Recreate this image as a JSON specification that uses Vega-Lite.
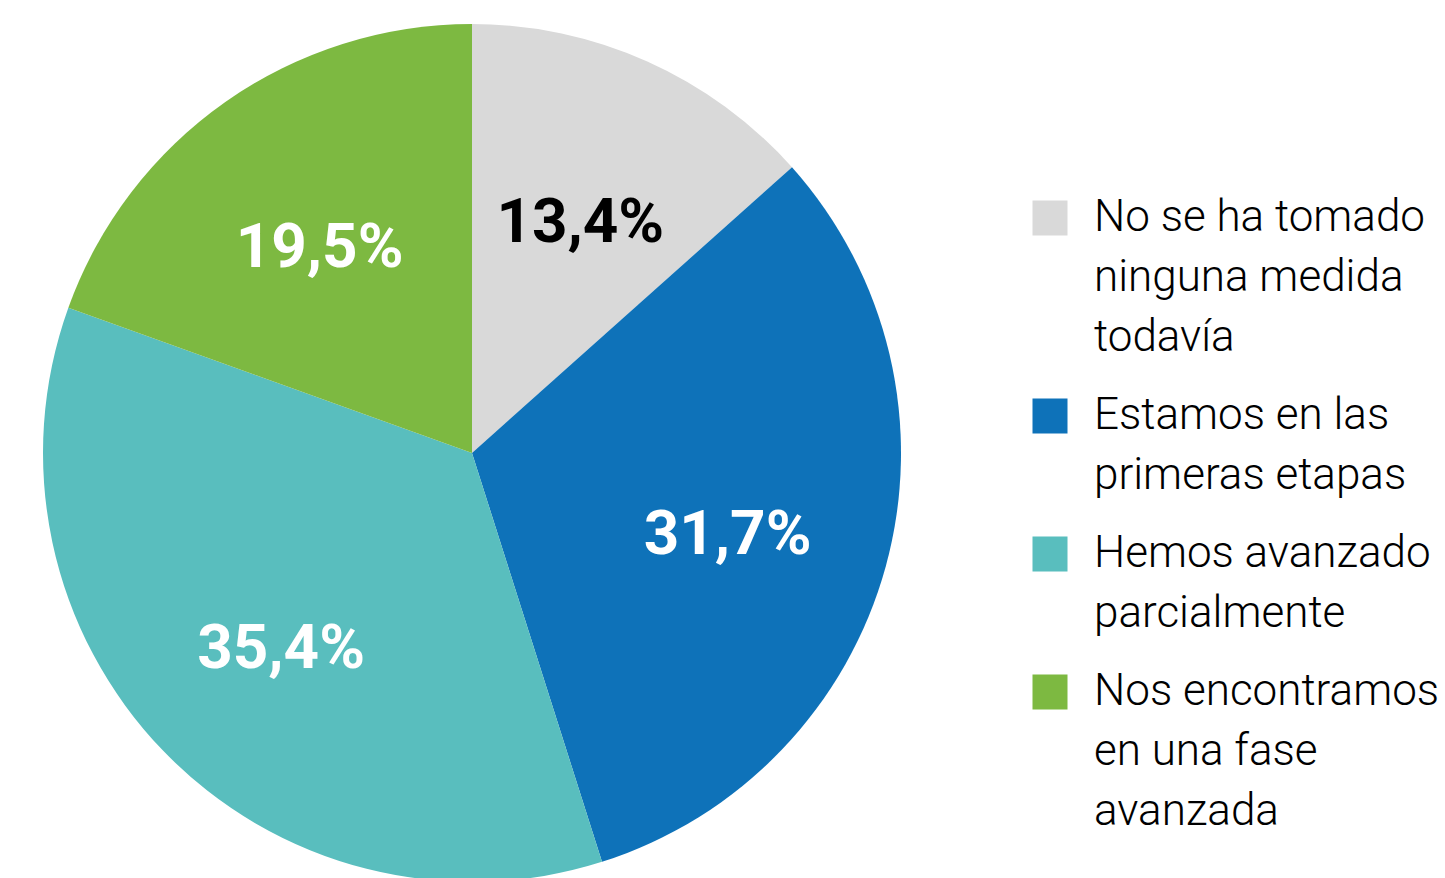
{
  "$schema": "https://vega.github.io/schema/vega-lite/v6.json",
  "width": 944,
  "height": 906,
  "padding": 0,
  "background": "white",
  "config": {"view": {"stroke": null}},
  "data": {
    "values": [
      {"orden": 1, "categoria": "No se ha tomado ninguna medida todavía", "valor": 13.4, "etiqueta": "13,4%"},
      {"orden": 2, "categoria": "Estamos en las primeras etapas", "valor": 31.7, "etiqueta": "31,7%"},
      {"orden": 3, "categoria": "Hemos avanzado parcialmente", "valor": 35.4, "etiqueta": "35,4%"},
      {"orden": 4, "categoria": "Nos encontramos en una fase avanzada", "valor": 19.5, "etiqueta": "19,5%"}
    ]
  },
  "encoding": {
    "theta": {"field": "valor", "type": "quantitative", "stack": true},
    "order": {"field": "orden", "type": "quantitative"}
  },
  "layer": [
    {
      "mark": {"type": "arc", "outerRadius": 429},
      "encoding": {
        "color": {
          "field": "categoria",
          "type": "nominal",
          "sort": null,
          "scale": {
            "domain": ["No se ha tomado ninguna medida todavía", "Estamos en las primeras etapas", "Hemos avanzado parcialmente", "Nos encontramos en una fase avanzada"],
            "range": ["#d9d9d9", "#0e72b9", "#59bebe", "#7db941"]
          },
          "legend": {
            "orient": "none",
            "legendX": 1028,
            "legendY": 196,
            "title": null,
            "padding": 0,
            "symbolType": "square",
            "symbolSize": 1225,
            "symbolStrokeWidth": 0,
            "symbolOpacity": 1,
            "labelFont": "Roboto",
            "labelFontWeight": 300,
            "labelFontSize": 44,
            "labelColor": "#000000",
            "labelOffset": 22,
            "labelLimit": 500,
            "rowPadding": 34,
            "labelBaseline": "middle",
            "labelExpr": "datum.label == 'No se ha tomado ninguna medida todavía' ? ['No se ha tomado', 'ninguna medida', 'todavía'] : datum.label == 'Estamos en las primeras etapas' ? ['Estamos en las', 'primeras etapas'] : datum.label == 'Hemos avanzado parcialmente' ? ['Hemos avanzado', 'parcialmente'] : ['Nos encontramos', 'en una fase', 'avanzada']",
            "encode": {
              "labels": {"update": {"lineHeight": {"value": 60}}}
            }
          }
        }
      }
    },
    {
      "mark": {"type": "text", "radius": 265, "dy": 12, "font": "Roboto", "fontSize": 62, "fontWeight": "bold"},
      "encoding": {
        "text": {"field": "etiqueta", "type": "nominal"},
        "color": {
          "condition": {"test": "datum.orden == 1", "value": "#000000"},
          "value": "#ffffff"
        }
      }
    }
  ]
}
